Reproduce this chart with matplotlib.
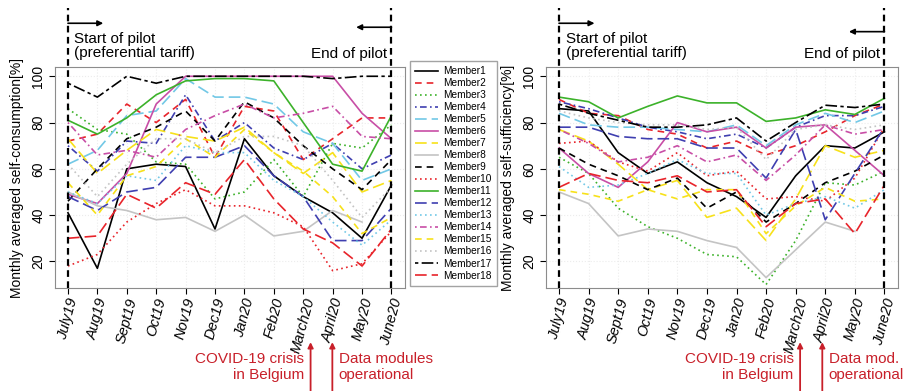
import numpy as np
import matplotlib
matplotlib.use("Agg")
import matplotlib.pyplot as plt

plt.rcParams['font.family'] = ['Liberation Sans', 'DejaVu Sans']

# months on the x axis
months = ['July19', 'Aug19', 'Sept19', 'Oct19', 'Nov19', 'Dec19', 'Jan20',
          'Feb20', 'March20', 'April20', 'May20', 'June20']
members = ['Member%d' % i for i in range(1, 19)]
nan = np.nan

# monthly averaged self-consumption [%], one row per member
consumption = [
    [41, 17, 60, 62, 61, 34, 73, 57, 48, 41, 30, 53],
    [72, 75, 88, 80, 90, 65, 87, 85, 64, 73, 82, 82],
    [86, 77, 75, 63, 62, 47, 50, 64, 48, 71, 69, 79],
    [70, 59, 72, 71, 92, 72, 80, 69, 64, 71, 60, 66],
    [62, 68, 83, 85, 99, 91, 91, 88, 76, 71, 55, 60],
    [49, 45, 58, 88, 100, 100, 100, 100, 100, 100, 84, 73],
    [73, 58, 68, 77, 74, 72, 78, 67, 58, 67, 50, 55],
    [50, 44, 42, 38, 39, 33, 40, 31, 33, 42, 37, nan],
    [46, 60, 73, 78, 85, 72, 89, 82, 70, 60, 51, 64],
    [18, 23, 37, 45, 51, 44, 44, 41, 35, 16, 19, 33],
    [81, 75, 82, 92, 98, 99, 99, 98, 80, 62, 59, 83],
    [48, 42, 50, 52, 65, 65, 70, 57, 48, 29, 29, 43],
    [50, 45, 57, 55, 70, 67, 67, 55, 48, 37, 27, 38],
    [80, 66, 68, 65, 77, 83, 88, 82, 84, 87, 74, 73],
    [54, 40, 57, 61, 73, 65, 77, 67, 59, 48, 32, 39],
    [62, 48, 62, 73, 73, 67, 74, 74, 70, 55, 39, 52],
    [97, 91, 100, 97, 100, 100, 100, 100, 100, 99, 100, 100],
    [30, 31, 49, 43, 54, 49, 64, 47, 34, 28, 18, 34],
]

# monthly averaged self-sufficiency [%], one row per member
sufficiency = [
    [86, 85, 67, 58, 63, 54, 48, 39, 57, 70, 69, 76],
    [90, 84, 83, 77, 75, 69, 72, 66, 70, 76, 83, 88],
    [65, 58, 43, 35, 30, 23, 22, 10, 29, 54, 53, 59],
    [89, 86, 82, 78, 76, 73, 75, 69, 78, 83, 83, 87],
    [84, 79, 78, 78, 77, 76, 79, 70, 79, 84, 80, 85],
    [69, 58, 52, 63, 80, 76, 78, 69, 78, 79, 68, 57],
    [77, 72, 62, 51, 55, 39, 43, 29, 47, 70, 65, 68],
    [50, 45, 31, 34, 33, 29, 26, 13, 25, 37, 33, nan],
    [69, 62, 57, 51, 56, 43, 50, 37, 45, 54, 59, 66],
    [71, 72, 63, 59, 67, 57, 59, 47, 48, 46, 56, 78],
    [91, 89, 82, 87, 91.5, 88.5, 88.5, 80.5, 82, 85.5, 83.5, 90.5],
    [78, 78, 74, 73, 73, 69, 69, 56, 77, 38, 58, 78],
    [61, 52, 53, 58, 64, 58, 58, 40, 45, 48, 43, 51],
    [77, 71, 63, 65, 70, 63, 66, 55, 66, 79, 75, 77],
    [51, 49, 46, 51, 47, 51, 51, 32, 44, 52, 46, 47],
    [85, 82, 80, 79, 79, 77, 78, 64, 77, 79, 77, 79],
    [88, 84, 81, 78, 78, 79, 82, 72, 80, 87.5, 86.5, 88],
    [52, 58, 55, 54, 57, 50, 51, 35, 45, 47, 32, 53],
]

# line colours and types per member
colors = ['black', '#e8242b', '#3cb22a', '#3f3fb0', '#72c8e6', '#c84ea6', '#f7e11a', '#c4c4c4',
          'black', '#e8242b', '#3cb22a', '#3f3fb0', '#72c8e6', '#c84ea6', '#f7e11a', '#c4c4c4',
          'black', '#e8242b']
solid = '-'
dashed = (0, (4, 3))
dotted = (0, (1, 2))
dotdash = (0, (1, 2, 4, 2))
longdash = (0, (7, 3))
twodash = (0, (2, 2, 7, 2))
styles = [solid, dashed, dotted, dotdash, longdash, solid, longdash, solid, dashed,
          dotted, solid, longdash, dotted, dotdash, dashed, dotted, twodash, longdash]
red_note = '#c8202a'

fig = plt.figure(figsize=(9.05, 3.91), dpi=100)
ax1 = fig.add_axes([0.0608, 0.2634, 0.3867, 0.5652])
ax2 = fig.add_axes([0.6033, 0.2634, 0.3890, 0.5652])
x = np.arange(len(months))


def draw_panel(ax, data, ylabel, end_arrow_y, covid_x, data_x, data_text):
    for i, row in enumerate(data):
        ax.plot(x, row, color=colors[i], linestyle=styles[i], lw=1.2, label=members[i])
    ax.set_xlim(-0.44, 11.46)
    ax.set_ylim(8.5, 104)
    ax.set_yticks([20, 40, 60, 80, 100])
    ax.set_yticklabels(['20', '40', '60', '80', '100'], rotation=90, va='center', fontsize=10)
    ax.set_xticks(x)
    ax.set_xticklabels(months, rotation=75, fontsize=10.5, style='italic')
    ax.tick_params(axis='x', length=4, pad=2)
    ax.tick_params(axis='y', length=4, pad=3)
    ax.grid(True, color='#ececec', linestyle=':', lw=0.8)
    for s in ax.spines.values():
        s.set_color('#8c8c8c')
    ax.set_ylabel(ylabel, fontsize=10, labelpad=5)

    tr = ax.get_xaxis_transform()
    # pilot start / end markers
    for xv in (0, 11):
        ax.plot([xv, xv], [0, 1.265], transform=tr, clip_on=False,
                color='black', ls=(0, (3, 2)), lw=1.6, zorder=5)
    ax.annotate('', xy=(1.2, 1.198), xytext=(0, 1.198), xycoords=tr, textcoords=tr,
                arrowprops=dict(arrowstyle='-|>', color='black', lw=1.2,
                                mutation_scale=8, shrinkA=0, shrinkB=0))
    ax.annotate('', xy=(9.8, end_arrow_y), xytext=(11, end_arrow_y), xycoords=tr, textcoords=tr,
                arrowprops=dict(arrowstyle='-|>', color='black', lw=1.2,
                                mutation_scale=8, shrinkA=0, shrinkB=0))
    ax.text(0.22, 1.16, 'Start of pilot\n(preferential tariff)', transform=tr,
            fontsize=11, va='top', ha='left', linespacing=1.05)
    ax.text(10.85, 1.09, 'End of pilot', transform=tr, fontsize=11,
            va='top', ha='right')

    # COVID / data module notes under the x axis
    for xv in (covid_x, data_x):
        ax.annotate('', xy=(xv, -0.245), xytext=(xv, -0.465), xycoords=tr, textcoords=tr,
                    arrowprops=dict(arrowstyle='-|>', color=red_note, lw=1.3,
                                    mutation_scale=8, shrinkA=0, shrinkB=0),
                    annotation_clip=False)
    ax.text(covid_x - 0.22, -0.29, 'COVID-19 crisis\nin Belgium', transform=tr,
            color=red_note, fontsize=11, ha='right', va='top', linespacing=1.15)
    ax.text(data_x + 0.22, -0.29, data_text, transform=tr,
            color=red_note, fontsize=11, ha='left', va='top', linespacing=1.15)


draw_panel(ax1, consumption, 'Monthly averaged self-consumption[%]', 1.18,
           8.25, 8.99, 'Data modules\noperational')
draw_panel(ax2, sufficiency, 'Monthly averaged self-sufficiency[%]', 1.16,
           8.15, 8.9, 'Data mod.\noperational')

handles, labels = ax1.get_legend_handles_labels()
fig.legend(handles, labels, loc='upper left', bbox_to_anchor=(410 / 905, 1 - 61 / 391),
           fontsize=7.3, frameon=True, fancybox=False, edgecolor='#8c8c8c',
           handlelength=2.3, labelspacing=0.2, borderpad=0.5, handletextpad=0.5,
           borderaxespad=0)

fig.savefig('out.png', dpi=100)
